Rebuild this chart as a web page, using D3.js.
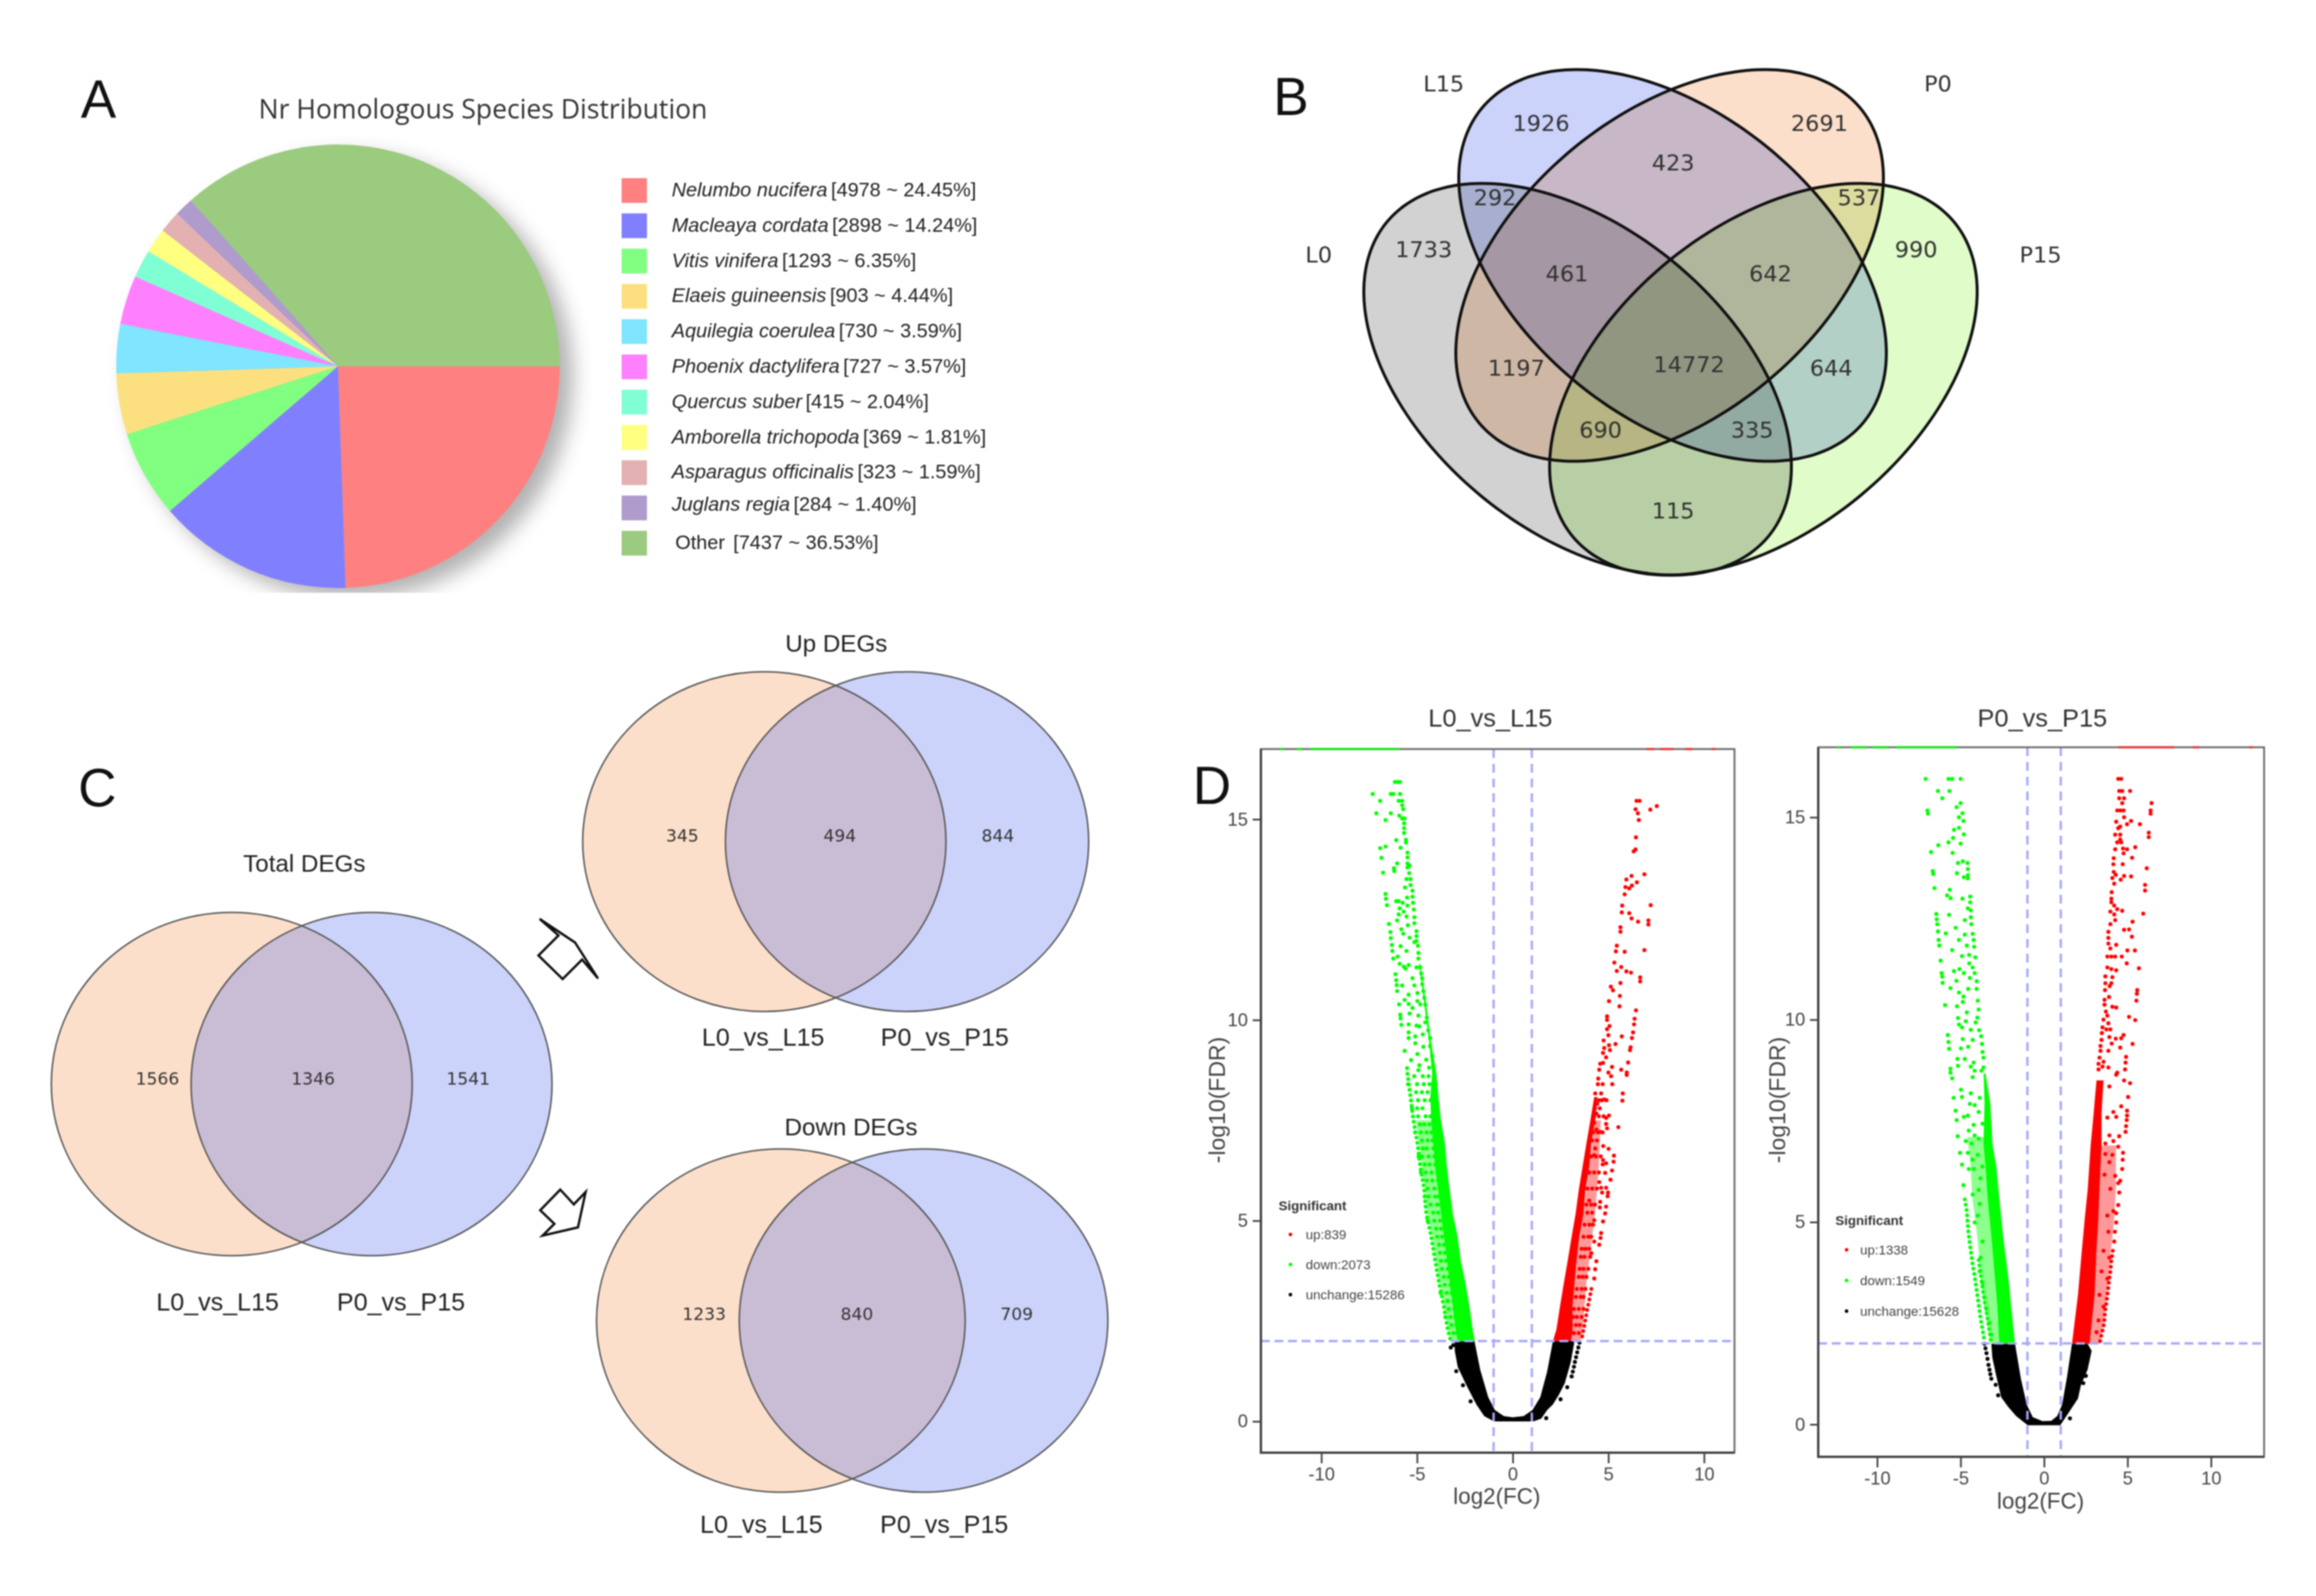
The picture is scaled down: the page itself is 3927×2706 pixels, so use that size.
<!DOCTYPE html>
<html><head><meta charset="utf-8">
<script src="https://cdnjs.cloudflare.com/ajax/libs/d3/7.8.5/d3.min.js"></script>
<style>html,body{margin:0;padding:0;background:#fff}svg{display:block;filter:blur(1.2px)}</style>
</head><body><svg id="c" width="3927" height="2706" viewBox="0 0 3927 2706"></svg>
<script>
// ---------- Panel A data ----------
const pieSpecies=["Nelumbo nucifera","Macleaya cordata","Vitis vinifera","Elaeis guineensis","Aquilegia coerulea","Phoenix dactylifera","Quercus suber","Amborella trichopoda","Asparagus officinalis","Juglans regia","Other"];
const pieCounts=[4978,2898,1293,903,730,727,415,369,323,284,7437];
const piePercents=["24.45","14.24","6.35","4.44","3.59","3.57","2.04","1.81","1.59","1.40","36.53"];
const pieColors=["#ff8080","#8080ff","#80ff80","#fce07f","#80e5ff","#ff80ff","#80ffd5","#ffff80","#e3b1b1","#af9bcc","#9bcb7f"];
// ---------- Panel B data ----------
const setNames=["L0","L15","P0","P15"];
const regionValues=[1926,2691,423,292,537,1733,990,461,642,1197,14772,644,690,335,115];
// ---------- Panel C data ----------
const vennGroups=["L0_vs_L15","P0_vs_P15"];
const totalDEG=[1566,1346,1541];
const upDEG=[345,494,844];
const downDEG=[1233,840,709];
// ---------- Panel D data ----------
const xTickValues=[-10,-5,0,5,10];
const yTickValues=[0,5,10,15];
const lCounts=["up:839","down:2073","unchange:15286"];
const rCounts=["up:1338","down:1549","unchange:15628"];

// dense bands: [-log10FDR, left log2FC, right log2FC]
const lDownCore=[[11.4,-4.90,-4.84],[10.5,-4.65,-4.55],[9.5,-4.38,-4.28],[8.66,-4.21,-3.99],[8.08,-4.31,-3.88],[7.5,-4.26,-3.75],[6.92,-4.16,-3.54],[6.34,-4.06,-3.44],[5.76,-3.90,-3.29],[5.18,-3.75,-3.13],[4.6,-3.60,-2.88],[4.02,-3.44,-2.72],[3.44,-3.29,-2.47],[2.86,-3.13,-2.26],[2.28,-2.98,-2.09],[1.99,-2.88,-1.98]];
const lUpCore=[[8.08,4.26,4.42],[7.5,4.06,4.31],[6.92,3.85,4.11],[6.34,3.65,4.0],[5.76,3.45,3.8],[5.18,3.29,3.70],[4.6,3.08,3.49],[4.02,2.88,3.34],[3.44,2.67,3.23],[2.86,2.47,3.13],[2.28,2.28,3.13],[2.0,2.10,3.05]];
const rDownCore=[[8.67,-3.62,-3.51],[7.92,-3.57,-3.22],[6.94,-3.63,-3.10],[6.37,-3.51,-2.86],[5.62,-3.39,-2.69],[4.64,-3.16,-2.45],[3.49,-2.92,-2.10],[2.91,-2.80,-1.97],[1.99,-2.69,-1.74]];
const rUpCore=[[8.5,3.14,3.56],[7.69,2.97,3.44],[6.89,2.79,3.44],[5.79,2.61,3.32],[5.10,2.44,3.26],[4.29,2.26,3.14],[3.20,2.03,3.03],[1.99,1.67,2.73]];
// speckled (half-filled) part of each band, between the solid part and the outer rim
const lDownHalf=[[7.5,-5.05,-4.26],[6.92,-4.9,-4.16],[6.34,-4.75,-4.06],[5.76,-4.55,-3.90],[5.18,-4.45,-3.75],[4.6,-4.2,-3.60],[4.02,-4.0,-3.44],[3.44,-3.8,-3.29],[2.86,-3.55,-3.13],[2.28,-3.35,-2.98],[2,-3.2,-2.88]];
const lUpHalf=[[7.5,4.31,4.6],[6.34,4.0,4.5],[5.18,3.7,4.3],[4.02,3.34,4.0],[3.44,3.23,3.85],[2.86,3.13,3.75],[2.28,3.13,3.65],[2,3.05,3.55]];
const rDownHalf=[[7.1,-4.6,-3.6],[6.37,-4.4,-3.51],[5.62,-4.3,-3.39],[4.64,-4.0,-3.16],[3.49,-3.75,-2.92],[2.91,-3.6,-2.80],[1.99,-3.2,-2.69]];
const rUpHalf=[[6.89,3.44,4.3],[5.79,3.32,4.3],[5.10,3.26,4.2],[4.29,3.14,4.0],[3.2,3.03,3.75],[1.99,2.73,3.35]];
// unchanged-gene region outlines [log2FC,-log10FDR]
const lBlack=[[-2.0,2.0],[-1.70,1.29],[-1.28,.60],[-.93,.28],[-.46,.13],[0,.10],[.565,.13],[1.03,.28],[1.44,.60],[1.80,1.24],[2.1,2.0],[3.23,2.0],[3.03,1.47],[2.72,.95],[2.41,.66],[2.10,.42],[1.80,.28],[1.49,.07],[1.08,0],[-.98,0],[-1.49,.13],[-1.9,.42],[-2.41,.89],[-2.87,1.35],[-3.03,1.76],[-3.03,2.0]];
const rBlack=[[-1.74,1.99],[-1.39,1.13],[-1.04,.49],[-.68,.18],[-.10,.08],[.43,.09],[.79,.21],[1.08,.49],[1.38,1.19],[1.67,1.99],[2.61,1.99],[2.85,1.82],[2.61,1.36],[2.20,.96],[2.03,.64],[1.44,.27],[.97,-.02],[-.98,-.02],[-1.68,.21],[-2.16,.44],[-2.57,.67],[-2.86,1.19],[-3.1,1.65],[-3.16,1.99]];
const lBlackDots=[[-3.24,1.84],[-3.1,1.9],[3.49,1.96],[3.43,1.84],[3.37,1.72],[3.31,1.60],[3.25,1.48],[3.2,1.36],[3.14,1.24],[3.08,1.12],[-2.95,1.25],[-2.6,.9],[-2.2,.5],[2.85,.85],[2.5,.55],[1.75,.08]];
const rBlackDots=[[-3.57,1.99],[-3.51,1.88],[-3.45,1.76],[-3.39,1.62],[-3.33,1.47],[-3.27,1.35],[-3.22,1.24],[-3.16,1.13],[-2.9,.98],[-2.75,.72],[1.55,.15],[2.35,1.02],[2.5,1.2]];
// outer rim rows of dots
const lDownRim=[[8.66,-5.50],[8.08,-5.34],[7.5,-5.19],[6.92,-4.98],[6.34,-4.83],[5.76,-4.62],[5.18,-4.52],[4.6,-4.26],[4.02,-4.06],[3.44,-3.85],[2.86,-3.60],[2.28,-3.39],[2.0,-3.24]];
const rDownRim=[[5.56,-4.75],[5.27,-4.63],[4.81,-4.55],[4.47,-4.45],[3.95,-4.28],[3.66,-4.16],[3.14,-3.98],[2.63,-3.81],[2.05,-3.57]];
const rDownRimInner=[[4.06,-3.92],[3.2,-3.63],[2.63,-3.39],[1.99,-3.16]];
const lUpRim=[[3.30,4.11],[3.03,4.0],[2.80,3.90],[2.54,3.80],[2.28,3.70],[2.05,3.60]];
const rUpRim=[[4.29,4.12],[4.06,4.03],[3.78,3.97],[3.60,3.91],[3.40,3.85],[3.0,3.73],[2.80,3.65],[2.63,3.62],[2.42,3.56],[2.22,3.44],[1.99,3.32]];
// rows in the band: [-log10FDR,[log2FC...]]
const lDownRows=[[8.6,[-5.15,-4.70,-4.40]],[8.4,[-5.47,-5.0,-4.65,-4.35]],[8.2,[-5.05,-4.75,-4.45]],[8.0,[-4.95,-4.60,-4.30]],[7.8,[-5.27,-5.00,-4.72]],[7.6,[-4.95,-4.55,-4.30]],[7.4,[-4.85,-4.62,-4.35]],[7.2,[-5.10,-4.80,-4.50,-4.25]],[7.0,[-4.75,-4.45,-4.20]],[6.8,[-4.70,-4.50,-4.15]],[6.6,[-4.92,-4.75,-4.40,-4.10]],[6.4,[-4.60,-4.35,-4.05]],[6.2,[-4.80,-4.55,-4.25,-3.95]],[6.0,[-4.50,-4.20,-3.90]],[5.8,[-4.45,-4.10]],[5.6,[-4.60,-4.40,-4.05,-3.85]],[5.4,[-4.30,-3.95,-3.75]],[5.2,[-4.15,-3.90]],[5.0,[-4.45,-4.10,-3.80,-3.60]],[4.8,[-4.00,-3.75,-3.55]],[4.6,[-3.95,-3.70,-3.45]],[4.4,[-3.85,-3.60]],[4.2,[-3.80,-3.55,-3.35]],[4.0,[-3.75,-3.50,-3.25]],[3.8,[-3.70,-3.40]],[3.6,[-3.60,-3.35,-3.15]],[3.4,[-3.55,-3.25]],[3.2,[-3.77,-3.45,-3.20]],[3.0,[-3.40,-3.10]],[2.8,[-3.35,-3.05]],[2.6,[-3.52,-3.25,-3.00]],[2.4,[-3.20,-2.95]],[2.2,[-3.10,-2.90]]];
const lUpRows=[[8.4,[4.45,4.7,5.2]],[8.0,[4.5,4.65,4.9]],[7.8,[4.3,4.55]],[7.6,[4.25,4.5,4.75]],[7.2,[4.2,4.45,4.7]],[7.0,[4.15,4.4]],[6.6,[4.1,4.35,4.6]],[6.2,[4.0,4.25,4.5]],[5.8,[3.9,4.15,4.4]],[5.4,[3.85,4.1,4.3]],[5.2,[3.9,4.15]],[4.9,[3.75,4.0,4.2]],[4.6,[3.7,3.95,4.1]],[4.3,[3.6,3.8,4.0]],[4.1,[3.55,3.75,4.05]],[3.8,[3.5,3.7,3.95]],[3.6,[3.45,3.65,3.85]],[3.3,[3.35,3.6,3.8]],[3.1,[3.3,3.55,3.7]],[2.8,[3.2,3.45,3.7]],[2.6,[3.15,3.35,3.6]],[2.4,[3.05,3.3,3.5]],[2.2,[3.0,3.2,3.45]]];
// single dots
const lDownDots=[[-6.16,15.93],[-6.01,15.93],[-5.89,15.93],[-7.32,15.63],[-6.37,15.63],[-6.24,15.63],[-5.89,15.63],[-6.93,15.46],[-5.96,15.46],[-5.78,15.46],[-5.78,15.35],[-5.72,15.25],[-7.13,15.15],[-6.37,15.15],[-6.65,14.98],[-5.93,15.09],[-5.78,15.02],[-5.65,15.02],[-5.68,14.90],[-5.68,14.78],[-5.68,14.66],[-6.09,14.48],[-5.58,14.49],[-5.58,14.42],[-6.93,14.28],[-6.65,14.32],[-5.86,14.29],[-5.50,14.17],[-5.50,14.05],[-6.86,14.04],[-6.04,13.90],[-6.21,13.78],[-6.19,13.71],[-6.78,13.67],[-5.50,13.90],[-5.50,13.80],[-5.39,13.85],[-5.41,13.66],[-5.55,13.51],[-5.34,13.51],[-5.34,13.36],[-5.63,13.30],[-5.24,13.22],[-6.65,13.14],[-6.63,13.02],[-6.57,12.86],[-6.09,12.96],[-5.96,12.96],[-5.75,12.92],[-5.50,12.85],[-5.52,13.05],[-5.24,13.07],[-5.21,12.92],[-5.17,12.75],[-5.14,12.56],[-5.14,12.41],[-5.91,12.78],[-5.70,12.70],[-5.96,12.63],[-5.55,12.58],[-6.04,12.48],[-6.47,12.39],[-5.48,12.36],[-5.82,12.26],[-5.72,12.15],[-6.39,12.19],[-6.37,12.04],[-6.32,11.87],[-6.29,11.72],[-5.39,12.05],[-5.03,12.21],[-5.03,12.09],[-5.03,11.97],[-5.14,11.94],[-4.96,11.85],[-5.86,11.84],[-5.55,11.72],[-4.93,11.67],[-4.93,11.53],[-6.24,11.53],[-6.01,11.58],[-5.91,11.40],[-5.70,11.33],[-5.44,11.37],[-5.60,11.28],[-4.83,11.31],[-4.78,11.16],[-4.73,11.04],[-5.03,11.31],[-6.13,11.14],[-6.09,10.99],[-6.06,10.87],[-6.04,10.72],[-5.24,11.04],[-5.14,10.86],[-5.78,10.86],[-4.73,10.89],[-4.67,10.72],[-4.62,10.55],[-4.57,10.38],[-4.98,10.67],[-5.44,10.63],[-5.65,10.50],[-5.44,10.40],[-5.24,10.30],[-4.98,10.47],[-4.83,10.39],[-5.94,10.39],[-5.88,10.13],[-5.86,10.04],[-5.39,10.16],[-4.93,10.11],[-4.49,10.06],[-4.57,9.94],[-5.82,9.88],[-5.44,9.89],[-5.03,9.86],[-4.88,9.84],[-4.42,9.74],[-4.32,9.55],[-5.44,9.69],[-5.44,9.55],[-5.09,9.59],[-4.70,9.64],[-5.09,9.42],[-4.67,9.33],[-4.32,9.35],[-5.65,9.23],[-4.98,9.15],[-4.21,9.10],[-5.31,9.00],[-4.52,9.01],[-4.16,8.86],[-5.52,8.80],[-4.88,8.87],[-4.93,8.75],[-4.37,8.81]];
const lUpDots=[[6.47,15.46],[6.63,15.46],[6.42,15.25],[6.54,15.15],[7.19,15.24],[7.53,15.33],[6.59,14.98],[6.44,14.55],[6.42,14.25],[6.32,14.20],[6.88,13.63],[6.21,13.59],[5.94,13.50],[6.49,13.43],[6.23,13.35],[6.09,13.28],[5.89,13.31],[5.85,13.13],[5.72,12.85],[5.70,12.68],[7.21,12.86],[6.09,12.66],[6.21,12.53],[6.55,12.45],[7.09,12.48],[7.09,12.38],[5.63,12.31],[5.63,12.20],[5.44,11.85],[5.39,11.71],[5.85,11.70],[6.88,11.74],[5.31,11.43],[5.67,11.32],[5.44,11.22],[5.94,11.21],[6.18,11.18],[6.66,11.06],[6.66,10.96],[5.63,10.92],[5.13,10.83],[5.24,10.74],[5.60,10.60],[5.03,10.47],[5.58,10.34],[6.44,10.24],[4.93,10.09],[4.93,10.00],[6.37,10.03],[6.34,9.89],[5.06,9.85],[4.93,9.77],[6.29,9.69],[6.23,9.55],[5.00,9.62],[5.70,9.59],[4.75,9.49],[5.37,9.40],[5.03,9.37],[4.78,9.30],[5.08,9.25],[4.72,9.18],[6.16,9.32],[6.13,9.25],[4.88,9.07],[6.03,8.94],[4.57,8.91],[4.72,8.93],[4.52,8.76],[5.19,8.83],[5.67,8.76],[5.0,8.69],[5.96,8.69],[4.47,8.54],[5.14,8.60],[5.96,8.63],[4.31,8.17],[4.62,8.17],[5.75,8.17],[5.73,7.99],[4.78,8.02],[4.42,7.91],[5.03,7.62],[4.88,7.56],[4.37,7.67],[4.26,7.44],[4.88,7.41],[4.93,7.30],[5.52,7.33],[4.57,7.21],[4.37,7.27],[4.73,6.86],[5.01,6.79],[4.31,6.80],[4.26,6.63],[5.29,6.62],[5.27,6.47],[4.72,6.51],[4.88,6.43],[4.70,6.40],[5.19,6.25],[4.83,6.19],[5.11,6.02],[4.52,5.96],[4.62,5.82],[4.88,5.82],[4.98,5.70],[4.67,5.70],[4.96,5.61],[4.57,5.47],[4.88,5.35],[4.83,5.18],[4.55,5.33],[4.72,4.98],[4.26,5.01],[4.0,5.5],[4.62,4.69],[4.59,4.57],[4.52,4.40],[4.26,4.48],[4.11,4.19],[4.37,3.99],[4.31,3.79],[4.26,3.56]];
const rDownDots=[[-7.10,15.95],[-5.73,15.95],[-5.51,15.95],[-5.0,15.95],[-6.36,15.65],[-5.67,15.65],[-6.10,15.47],[-5.0,15.35],[-5.24,15.25],[-6.99,15.17],[-6.96,15.09],[-4.89,15.10],[-5.10,15.0],[-4.83,14.91],[-5.10,14.74],[-5.40,14.69],[-4.81,14.58],[-5.45,14.49],[-5.73,14.38],[-5.0,14.35],[-6.34,14.31],[-6.77,14.14],[-5.48,14.12],[-4.87,13.91],[-4.59,13.87],[-5.16,13.87],[-4.57,13.72],[-5.22,13.62],[-6.67,13.67],[-6.64,13.60],[-4.57,13.57],[-4.57,13.49],[-4.81,13.52],[-6.57,13.25],[-5.65,13.21],[-5.81,13.07],[-5.60,13.0],[-4.89,12.99],[-4.43,13.04],[-4.43,12.90],[-4.57,12.75],[-4.39,12.70],[-4.39,12.53],[-4.36,12.36],[-6.46,12.61],[-6.43,12.48],[-6.40,12.36],[-6.36,12.18],[-5.69,12.59],[-4.75,12.46],[-5.30,12.27],[-5.89,12.13],[-4.75,12.10],[-4.28,12.12],[-4.22,11.97],[-4.19,11.80],[-5.10,11.97],[-6.32,11.97],[-6.28,11.83],[-4.63,11.83],[-5.51,11.72],[-4.92,11.57],[-4.49,11.60],[-4.12,11.54],[-6.20,11.46],[-4.48,11.39],[-4.28,11.29],[-5.40,11.20],[-5.07,11.25],[-4.81,11.15],[-4.16,11.15],[-6.14,11.15],[-6.10,11.06],[-6.08,10.91],[-5.25,10.96],[-4.45,11.03],[-4.04,10.95],[-5.61,10.78],[-4.55,10.76],[-4.04,10.76],[-5.10,10.67],[-4.83,10.57],[-4.87,10.44],[-5.93,10.36],[-5.22,10.33],[-3.98,10.47],[-3.92,10.25],[-4.63,10.18],[-5.16,10.04],[-4.0,10.05],[-4.69,9.96],[-4.10,9.93],[-5.10,9.88],[-4.92,9.81],[-4.39,9.75],[-3.89,9.74],[-3.77,9.59],[-3.72,9.40],[-3.69,9.20],[-5.77,9.62],[-5.73,9.45],[-5.69,9.28],[-4.87,9.52],[-4.28,9.50],[-4.98,9.29],[-4.55,9.33],[-5.19,9.03],[-4.75,9.03],[-3.63,9.06],[-5.16,8.86],[-4.22,8.94],[-4.39,8.84],[-3.63,8.82],[-5.61,8.79],[-5.61,8.69],[-4.16,8.74],[-3.75,8.74],[-5.51,8.55],[-5.42,8.07],[-5.30,7.75],[-5.24,7.52],[-5.18,7.12],[-5.04,6.71],[-4.92,6.42],[-4.83,5.91],[-4.98,8.27],[-4.28,8.58],[-4.92,8.09],[-4.39,8.18],[-3.86,8.07],[-4.45,7.92],[-4.16,7.89],[-3.92,7.72],[-4.81,7.60],[-4.57,7.63],[-4.22,7.40],[-3.69,7.43],[-4.51,7.26],[-4.16,7.14],[-3.92,7.06],[-4.69,7.0],[-4.34,6.94],[-4.57,6.71],[-3.98,6.66],[-4.28,6.54],[-4.51,6.31],[-3.69,6.37],[-4.22,6.31],[-3.81,6.08],[-4.28,5.68],[-3.92,5.79],[-4.16,4.99],[-3.86,5.45],[-3.98,5.16],[-3.69,4.52],[-3.81,4.12],[-3.86,3.78],[-3.69,3.49],[-3.57,3.14],[-3.45,2.86],[-3.27,2.51],[-3.16,2.22]];
const rUpDots=[[4.44,15.95],[4.62,15.95],[4.50,15.65],[4.68,15.65],[5.15,15.65],[4.50,15.47],[4.79,15.47],[4.68,15.35],[6.44,15.35],[4.38,15.17],[4.56,15.17],[4.76,15.17],[6.38,15.17],[6.38,15.09],[4.79,15.0],[5.21,14.91],[4.97,14.83],[4.32,14.89],[5.74,14.83],[4.56,14.77],[4.44,14.73],[6.27,14.62],[6.27,14.51],[4.26,14.57],[4.56,14.57],[4.56,14.45],[4.38,14.38],[4.62,14.38],[4.26,14.21],[4.73,14.23],[4.97,14.21],[5.46,14.26],[4.76,14.11],[5.27,14.0],[4.17,13.99],[4.15,13.84],[4.71,13.84],[6.15,13.74],[4.17,13.65],[4.29,13.58],[4.09,13.50],[4.79,13.55],[5.21,13.54],[4.59,13.46],[4.20,13.36],[6.05,13.33],[6.05,13.19],[4.05,13.15],[4.03,12.99],[4.03,12.90],[4.20,12.82],[4.38,12.73],[4.68,12.69],[3.97,12.67],[4.20,12.60],[5.94,12.62],[4.26,12.46],[3.97,12.36],[5.30,12.42],[4.79,12.22],[5.09,12.23],[5.26,12.05],[3.85,12.17],[3.85,12.02],[3.85,11.88],[3.97,11.76],[4.32,11.85],[4.99,11.71],[5.44,11.71],[3.79,11.56],[4.03,11.56],[4.26,11.56],[4.65,11.56],[4.95,11.39],[3.79,11.29],[4.03,11.25],[4.32,11.22],[5.68,11.27],[3.67,11.07],[4.09,11.05],[3.67,10.90],[4.03,10.90],[3.65,10.73],[3.93,10.83],[5.58,10.73],[5.56,10.64],[5.53,10.47],[3.89,10.56],[3.62,10.49],[3.62,10.37],[4.09,10.32],[4.32,10.30],[3.70,10.20],[3.79,10.10],[3.56,10.0],[5.09,10.07],[5.46,9.99],[3.85,9.91],[3.50,9.81],[3.73,9.76],[3.97,9.76],[3.46,9.67],[3.91,9.57],[4.29,9.53],[4.62,9.54],[4.76,9.62],[3.44,9.50],[4.05,9.41],[5.30,9.40],[4.56,9.31],[3.38,9.35],[3.38,9.23],[3.85,9.23],[4.91,9.08],[4.88,8.94],[4.85,8.77],[3.32,9.06],[3.26,8.91],[3.26,8.77],[3.56,8.96],[3.85,8.82],[3.50,8.84],[4.38,8.69],[4.32,8.64],[4.79,8.50],[5.15,8.43],[5.03,8.09],[4.62,7.86],[4.97,7.75],[4.97,7.63],[4.95,7.52],[4.91,7.37],[4.88,7.23],[4.50,7.12],[4.44,6.86],[4.73,6.71],[4.71,6.54],[4.68,6.31],[4.56,6.02],[4.50,5.73],[4.44,5.42],[4.32,5.22],[4.32,4.99],[4.24,4.76],[4.20,4.52],[3.91,8.35],[4.15,7.72],[4.32,7.60],[3.79,7.58],[3.91,7.14],[3.67,6.94],[4.15,7.0],[3.67,6.68],[4.09,6.66],[3.91,6.48],[3.62,6.17],[4.26,6.14],[3.97,5.82],[4.44,5.96],[3.79,5.16],[4.15,5.27],[3.85,4.76],[3.56,4.29],[3.91,4.12],[3.44,3.78],[3.79,3.60],[3.32,3.20],[3.56,2.91],[3.26,2.57],[3.14,2.28]];
// off-scale values on the top edge: spans of log2FC
const lTopDown=[[-12.2,-12],[-11.3,-11],[-10.6,-5.9]];
const lTopUp=[[7,7.4],[7.7,8.4],[9,9.4],[10.4,10.6]];
const rTopDown=[[-12.4,-12.2],[-11.6,-10.6],[-10.3,-9.3],[-8.9,-5.2]];
const rTopUp=[[4.45,7.8],[8.9,9.3],[12.3,12.5]];

// ---------- helpers ----------
const svg=d3.select("#c");
const sans="'Liberation Sans',Arial,sans-serif", dj="'DejaVu Sans',sans-serif";
function T(x,y,s,o={}){
  return svg.append("text").attr("x",x).attr("y",y).text(s)
   .attr("dominant-baseline","central")
   .attr("text-anchor",o.a||"middle").attr("font-family",o.f||sans)
   .attr("font-size",o.s||40).attr("fill",o.c||"#222")
   .attr("font-style",o.i?"italic":null).attr("font-weight",o.b?"bold":null)
   .attr("transform",o.r?`rotate(${o.r} ${x} ${y})`:null);
}
[["A",167,168],["B",2189,164],["C",165,1336],["D",2055,1332]].forEach(d=>T(d[1],d[2],d[0],{s:90,c:"#111"}));

// ---------- Panel A ----------
const defs=svg.append("defs");
defs.append("filter").attr("id","sh").attr("x","-20%").attr("y","-20%").attr("width","140%").attr("height","140%")
  .append("feGaussianBlur").attr("stdDeviation",17);
defs.append("clipPath").attr("id","shc").append("rect").attr("x",0).attr("y",0).attr("width",1100).attr("height",1005);
const pieC={x:573,y:621,r:376};
svg.append("g").attr("clip-path","url(#shc)").append("circle").attr("cx",pieC.x+22).attr("cy",pieC.y+18).attr("r",pieC.r)
  .attr("fill","#888").attr("opacity",.65).attr("filter","url(#sh)");
const pieG=svg.append("g").attr("transform",`translate(${pieC.x},${pieC.y})`);
const pieGen=d3.pie().sort(null).startAngle(Math.PI/2).endAngle(Math.PI/2+2*Math.PI)(pieCounts);
pieG.selectAll("path").data(pieGen).join("path").attr("d",d3.arc().innerRadius(0).outerRadius(pieC.r)).attr("fill",(d,i)=>pieColors[i]);
T(819,183,"Nr Homologous Species Distribution",{f:"'Open Sans',sans-serif",s:45,c:"#333"});
const legY=d3.scaleLinear().domain([0,10]).range([321,919]);
pieSpecies.forEach((n,i)=>{
  svg.append("rect").attr("x",1054).attr("y",legY(i)-19).attr("width",43).attr("height",42).attr("fill",pieColors[i]);
  const t=svg.append("text").attr("x",i==10?1145:1139).attr("y",legY(i)-(i==9?5:0)).attr("dominant-baseline","central")
    .attr("font-family",sans).attr("font-size",33.7).attr("fill","#222");
  t.append("tspan").attr("font-style",i<10?"italic":null).text(n);
  t.append("tspan").attr("dx",i==10?14:6).text(`[${pieCounts[i]} ~ ${piePercents[i]}%]`);
});

// ---------- Panel B ----------
const ellipseParams=[[2675,643,.447,"#d2d2d2"],[2990,643,-.447,"#e0fcc9"],[2831,450,-.447,"#fcdfca"],[2836,450,.447,"#cbd3fb"]];
const ellX=362.5, ellY=332;
const angles=d3.range(0,360,3).map(a=>a*Math.PI/180);
function ell(p){
  const s=Math.sqrt(1-p[2]*p[2]);
  return d3.line().x(t=>p[0]+ellX*Math.cos(t)).y(t=>p[1]+ellY*(p[2]*Math.cos(t)+s*Math.sin(t))).curve(d3.curveCardinalClosed)(angles);
}
const bG=svg.append("g").style("isolation","isolate");
bG.selectAll("path.f").data(ellipseParams).join("path").attr("class","f").attr("d",ell).attr("fill",d=>d[3]).style("mix-blend-mode","multiply");
svg.selectAll("path.s").data(ellipseParams).join("path").attr("class","s").attr("d",ell).attr("fill","none").attr("stroke","#111").attr("stroke-width",5);
const regionPos=[[2613,209],[3085,209],[2837,276],[2535,335],[3152,335],[2414,423],[3249,423],[2657,464],[3002,464],[2571,624],[2864,618],[3105,624],[2714,729],[2971,729],[2837,866]];
regionValues.forEach((v,i)=>T(regionPos[i][0],regionPos[i][1],v,{f:dj,s:38,c:"#333"}));
const setPos=[[2236,432],[2448,142],[3286,142],[3460,432]];
setNames.forEach((n,i)=>T(setPos[i][0],setPos[i][1],n,{f:dj,s:38,c:"#333"}));

// ---------- Panel C ----------
function venn(left,right,ry,cy,rx,vals,tx,ty,title,titleXY,lab){
  svg.append("ellipse").attr("cx",left).attr("cy",cy).attr("rx",rx).attr("ry",ry).attr("fill","rgb(245,148,78)").attr("fill-opacity",.3);
  svg.append("ellipse").attr("cx",right).attr("cy",cy).attr("rx",rx).attr("ry",ry).attr("fill","rgb(82,108,242)").attr("fill-opacity",.3);
  [left,right].forEach(c=>svg.append("ellipse").attr("cx",c).attr("cy",cy).attr("rx",rx).attr("ry",ry).attr("fill","none").attr("stroke","#555").attr("stroke-width",2.5));
  vals.forEach((v,i)=>T(tx[i],ty,v,{f:dj,s:29,c:"#333"}));
  T(titleXY[0],titleXY[1],title,{s:41,c:"#222"});
  vennGroups.forEach((g,i)=>T(lab[i],lab[2],g,{s:42.5,c:"#222"}));
}
venn(393,630,291,1838,306,totalDEG,[267,531,794],1829,"Total DEGs",[516,1464],[369,680,2207]);
venn(1296,1538,288,1427,308,upDEG,[1157,1424,1692],1417,"Up DEGs",[1418,1091],[1294,1602,1758]);
venn(1324,1566,291,2239,312.5,downDEG,[1194,1453,1724],2228,"Down DEGs",[1443,1911],[1291,1601,2584]);
const arrowUp=[[915,1558],[975,1598],[1014,1659],[987,1627],[954,1660],[913,1620],[947,1586]];
const arrowDown=[[950,2017],[973,2042],[993,2021],[980,2081],[920,2095],[940,2075],[916,2052]];
[arrowUp,arrowDown].forEach(a=>svg.append("path").attr("d",d3.line()(a)+"Z").attr("fill","#fff").attr("stroke","#111").attr("stroke-width",4).attr("stroke-linejoin","miter"));

// ---------- Panel D ----------
function flatten(rows){return rows.flatMap(r=>r[1].map(x=>[x,r[0]]));}
function volcano(cfg){
  const x=d3.scaleLinear().domain(cfg.xd).range([cfg.L,cfg.R]);
  const y=d3.scaleLinear().domain(cfg.yd).range([cfg.B,cfg.Tp]);
  const g=svg.append("g");
  const area=d3.area().y(d=>y(d[0])).x0(d=>x(d[1])).x1(d=>x(d[2]));
  const dot=(pts,c)=>g.append("g").selectAll("circle").data(pts).join("circle").attr("cx",d=>x(d[0])).attr("cy",d=>y(d[1])).attr("r",3.4).attr("fill",c);
  const rim=(pts,c)=>g.append("path").attr("d",d3.line().x(d=>x(d[1])).y(d=>y(d[0]))(pts)).attr("fill","none").attr("stroke",c).attr("stroke-width",6.5).attr("stroke-linecap","round").attr("stroke-dasharray","0.1 9");
  g.append("path").attr("d",d3.line().x(d=>x(d[0])).y(d=>y(d[1]))(cfg.black)+"Z").attr("fill","#000");
  dot(cfg.blackDots,"#000");
  g.append("path").attr("d",area(cfg.downHalf)).attr("fill","#00ff00").attr("fill-opacity",.45);
  g.append("path").attr("d",area(cfg.upHalf)).attr("fill","#ff0000").attr("fill-opacity",.4);
  g.append("path").attr("d",area(cfg.downCore)).attr("fill","#00ff00");
  g.append("path").attr("d",area(cfg.upCore)).attr("fill","#ff0000");
  rim(cfg.downRim,"#00ff00"); rim(cfg.upRim,"#ff0000");
  if(cfg.downRim2) rim(cfg.downRim2,"#00ff00");
  dot(cfg.down,"#00ff00"); dot(cfg.up,"#ff0000");
  [-1,1].forEach(v=>g.append("line").attr("x1",x(v)).attr("x2",x(v)).attr("y1",cfg.Tp).attr("y2",cfg.B).attr("stroke","#a8a8ff").attr("stroke-width",4).attr("stroke-dasharray","15 10"));
  g.append("line").attr("x1",cfg.L).attr("x2",cfg.R).attr("y1",y(2)).attr("y2",y(2)).attr("stroke","#a8a8ff").attr("stroke-width",4).attr("stroke-dasharray","15 8");
  g.append("rect").attr("x",cfg.L).attr("y",cfg.Tp).attr("width",cfg.R-cfg.L).attr("height",cfg.B-cfg.Tp).attr("fill","none").attr("stroke","#666").attr("stroke-width",3);
  g.append("path").attr("d",`M${cfg.L},${cfg.Tp}V${cfg.B}H${cfg.R}`).attr("fill","none").attr("stroke","#444").attr("stroke-width",4);
  // off-scale row drawn on the top edge
  [[cfg.topDown,"#22e022"],[cfg.topUp,"#e84040"]].forEach(([spans,c])=>spans.forEach(s=>
    g.append("line").attr("x1",x(s[0])).attr("x2",x(s[1])).attr("y1",cfg.Tp).attr("y2",cfg.Tp).attr("stroke",c).attr("stroke-width",4)));
  const ax=g.append("g").attr("transform",`translate(0,${cfg.B})`).call(d3.axisBottom(x).tickValues(xTickValues).tickFormat(String).tickSize(18).tickPadding(7));
  const ay=g.append("g").attr("transform",`translate(${cfg.L},0)`).call(d3.axisLeft(y).tickValues(yTickValues).tickFormat(String).tickSize(14).tickPadding(8));
  [ax,ay].forEach(a=>{a.select(".domain").remove();a.selectAll("line").attr("stroke","#444").attr("stroke-width",3);
    a.selectAll("text").attr("font-family",sans).attr("font-size",31).attr("fill","#444");});
  T(cfg.tx,1217,cfg.title,{s:43,c:"#333"});
  T(cfg.xlx,cfg.xly,"log2(FC)",{s:38,c:"#444"});
  T(cfg.ylx,1865,"-log10(FDR)",{s:39,c:"#444",r:-90});
  T(cfg.legX,cfg.legY,"Significant",{a:"start",s:22.5,b:1,c:"#333"});
  ["#ff0000","#00ff00","#000"].forEach((c,i)=>{
    svg.append("circle").attr("cx",cfg.legDot).attr("cy",cfg.legRows[i]).attr("r",3).attr("fill",c);
    T(cfg.legTxt,cfg.legRows[i],cfg.counts[i],{a:"start",s:22.5,c:"#444"});
  });
}
volcano({L:2138,R:2941,Tp:1270,B:2463,xd:[-13.16,11.59],yd:[-.78,16.75],title:"L0_vs_L15",tx:2527,xlx:2538,xly:2537,ylx:2063,
  legX:2168,legY:2044,legDot:2188,legTxt:2214,legRows:[2093,2144,2195],counts:lCounts,
  black:lBlack,blackDots:lBlackDots,downCore:lDownCore,upCore:lUpCore,downHalf:lDownHalf,upHalf:lUpHalf,downRim:lDownRim,upRim:lUpRim,
  down:lDownDots.concat(flatten(lDownRows)),up:lUpDots.concat(flatten(lUpRows)),topDown:lTopDown,topUp:lTopUp});
volcano({L:3083,R:3839,Tp:1267,B:2470,xd:[-13.53,13.18],yd:[-.8,16.73],title:"P0_vs_P15",tx:3463,xlx:3460,xly:2545,ylx:3013,
  legX:3112,legY:2069,legDot:3131,legTxt:3154,legRows:[2119,2171,2223],counts:rCounts,
  black:rBlack,blackDots:rBlackDots,downCore:rDownCore,upCore:rUpCore,downHalf:rDownHalf,upHalf:rUpHalf,downRim:rDownRim,downRim2:rDownRimInner,upRim:rUpRim,
  down:rDownDots,up:rUpDots,topDown:rTopDown,topUp:rTopUp});
</script></body></html>
